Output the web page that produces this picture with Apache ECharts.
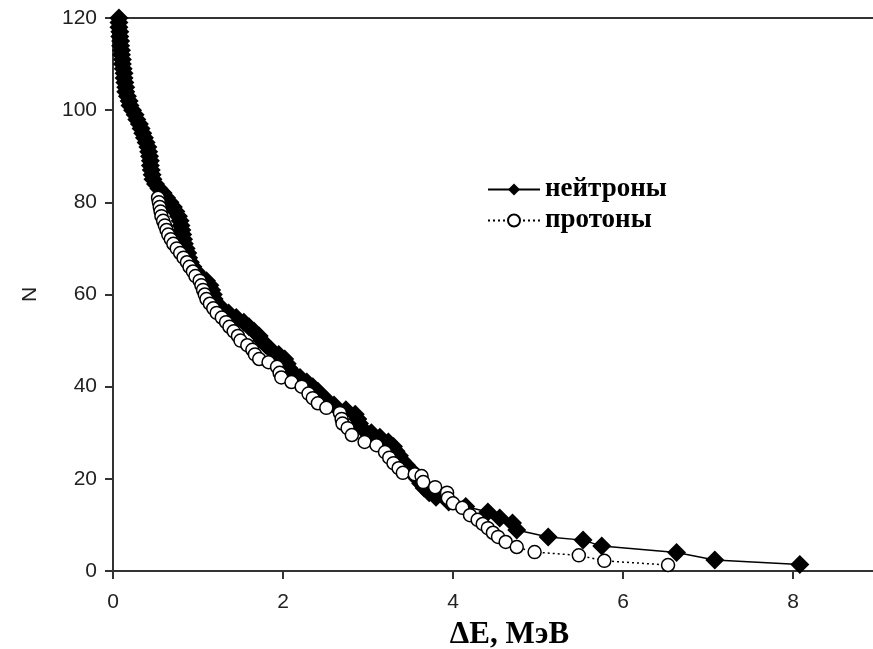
<!DOCTYPE html>
<html>
<head>
<meta charset="utf-8">
<script src="https://cdn.jsdelivr.net/npm/echarts@6/dist/echarts.min.js"></script>
<style>html,body{margin:0;padding:0;background:#fff}#c{width:873px;height:649px}</style>
</head>
<body>
<div id="c"></div>
<script>
var xTicks = [0, 2, 4, 6, 8];
var yTicks = [0, 20, 40, 60, 80, 100, 120];
var seriesNames = ['нейтроны', 'протоны'];

var neutronsE = [0.07,0.07,0.07,0.08,0.08,0.09,0.09,0.10,0.10,0.11,0.11,0.12,0.13,0.13,0.14,0.15,0.15,0.17,0.19,0.20,
  0.23,0.26,0.28,0.31,0.33,0.35,0.37,0.39,0.41,0.42,0.43,0.44,0.44,0.45,0.46,0.47,0.50,0.54,0.59,0.63,
  0.67,0.71,0.74,0.77,0.79,0.80,0.81,0.82,0.83,0.84,0.86,0.88,0.89,0.91,0.94,0.98,1.02,1.10,1.14,1.16,
  1.18,1.19,1.22,1.28,1.36,1.45,1.54,1.60,1.66,1.72,1.75,1.80,1.86,1.95,2.02,2.05,2.07,2.12,2.20,2.28,
  2.35,2.41,2.46,2.52,2.60,2.74,2.85,2.88,2.90,2.93,3.04,3.14,3.24,3.30,3.33,3.37,3.40,3.45,3.50,3.54,
  3.58,3.62,3.66,3.72,3.80,3.95,4.15,4.41,4.55,4.70,4.75,5.12,5.53,5.75,6.63,7.08,8.08];
var neutronsN = [120,119,118,117,116,115,114,113,112,111,110,109,108,107,106,105,104,103,102,101,
  100,99,98,97,96,95,94,93,92,91,90,89,88,87,86,85,84,83,82,81,
  80,79,78,77,76,75,74,73,72,71,70,69,68,67,66,65,64,63,62,61,
  60,59,58,57,56,55,54,53,52,51,50,49,48,47,46,45,44,43,42,41,
  40,39,38,37,36,35,34,33,32,31,30,29,28,27,26,25,24,23,22,21,
  20,19,18,17,16,15,14,12.8,11.5,10.4,8.9,7.4,6.7,5.4,4.0,2.4,1.4];

var protonsE = [0.53,0.54,0.55,0.56,0.57,0.59,0.61,0.63,0.65,0.68,0.71,0.75,0.79,0.83,0.87,0.90,0.94,0.97,1.02,1.04,
  1.06,1.08,1.10,1.14,1.18,1.22,1.28,1.33,1.37,1.42,1.47,1.50,1.58,1.64,1.67,1.72,1.83,1.93,1.96,1.98,
  2.10,2.22,2.30,2.35,2.41,2.51,2.67,2.69,2.70,2.76,2.81,2.96,3.10,3.20,3.25,3.30,3.36,3.41,3.55,3.63,
  3.65,3.79,3.93,3.94,4.00,4.11,4.20,4.29,4.35,4.41,4.47,4.53,4.62,4.75,4.96,5.48,5.78,6.53];
var protonsN = [81,80,79,78,77,76,75,74,73,72,71,70,69,68,67,66,65,64,63,62,
  61,60,59,58,57,56,55,54,53,52,51,50,49,48,47,46,45.3,44.3,43,42,
  41,40,38.5,37.5,36.4,35.4,34.3,33,32,31,29.5,28,27.3,25.8,24.6,23.4,22.3,21.3,21,20.6,
  19.3,18.2,17,15.8,14.7,13.7,12.1,11.1,10.2,9.3,8.3,7.4,6.3,5.2,4.1,3.4,2.2,1.3];

function zip(a, b) { return a.map(function (v, i) { return [v, b[i]]; }); }

var chart = echarts.init(document.getElementById('c'));
chart.setOption({
  animation: false,
  backgroundColor: '#fff',
  grid: { left: 113, top: 18, width: 765, height: 553, outerBoundsMode: 'none', containLabel: false,
    show: true, borderColor: '#333', borderWidth: 2, backgroundColor: 'transparent' },
  legend: {
    left: 482, top: 171, orient: 'vertical', itemWidth: 52, itemHeight: 15, itemGap: 4,
    textStyle: { fontFamily: 'Liberation Serif', fontWeight: 'bold', fontSize: 27, color: '#000' },
    data: seriesNames
  },
  xAxis: {
    type: 'value', min: xTicks[0], max: 9, interval: 2,
    name: 'ΔE, МэВ', nameLocation: 'middle', nameGap: 48,
    nameTextStyle: { fontFamily: 'Liberation Serif', fontWeight: 'bold', fontSize: 31, color: '#000', padding: [0, 0, 0, 28] },
    axisLine: { show: true, lineStyle: { color: '#333', width: 2 } },
    axisTick: { show: true, length: 8, lineStyle: { color: '#333', width: 2 } },
    axisLabel: { margin: 21, fontFamily: 'Liberation Sans', fontSize: 21, color: '#222',
      formatter: function (v) { return xTicks.indexOf(v) >= 0 ? String(v) : ''; } },
    splitLine: { show: false }
  },
  yAxis: {
    type: 'value', min: yTicks[0], max: yTicks[yTicks.length - 1], interval: 20,
    name: 'N', nameLocation: 'middle', nameGap: 72, nameRotate: 90,
    nameTextStyle: { fontFamily: 'Liberation Sans', fontSize: 21, color: '#222' },
    axisLine: { show: true, lineStyle: { color: '#333', width: 2 } },
    axisTick: { show: true, length: 8, lineStyle: { color: '#333', width: 2 } },
    axisLabel: { margin: 16, fontFamily: 'Liberation Sans', fontSize: 21, color: '#222' },
    splitLine: { show: false }
  },
  series: [
    {
      name: seriesNames[0], type: 'line', z: 2,
      data: zip(neutronsE, neutronsN),
      symbol: 'diamond', symbolSize: 19, showAllSymbol: true,
      lineStyle: { color: '#000', width: 1.5 },
      itemStyle: { color: '#000', borderColor: '#000', borderWidth: 0 }
    },
    {
      name: seriesNames[1], type: 'line', z: 3,
      data: zip(protonsE, protonsN),
      symbol: 'circle', symbolSize: 13, showAllSymbol: true,
      lineStyle: { color: '#000', width: 1.5, type: [2, 3] },
      itemStyle: { color: '#fff', borderColor: '#000', borderWidth: 1.5 }
    }
  ]
});
</script>
</body>
</html>
